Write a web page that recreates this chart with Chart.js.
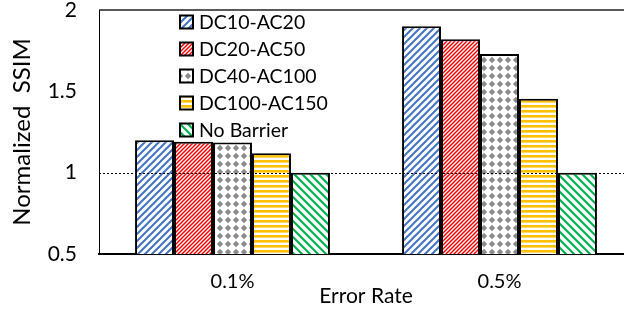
<!DOCTYPE html>
<html>
<head>
<meta charset="utf-8">
<script src="https://cdn.jsdelivr.net/npm/chart.js@4/dist/chart.umd.min.js"></script>
<style>
  html, body { margin: 0; padding: 0; background: #fff; overflow: hidden; }
</style>
</head>
<body>
<canvas id="canvas" width="640" height="313"></canvas>
<script>
// data
const categories = ['0.1%', '0.5%'];
const seriesNames = ['DC10-AC20', 'DC20-AC50', 'DC40-AC100', 'DC100-AC150', 'No Barrier'];
const dc10 = [1.20, 1.90];
const dc20 = [1.19, 1.82];
const dc40 = [1.185, 1.73];
const dc100 = [1.12, 1.455];
const noBarrier = [1.0, 1.0];
const yTicks = [0.5, 1, 1.5, 2];
const baseline = 1;

const FONT = 'Lato, "Open Sans", sans-serif';

// pattern helpers
function makePattern(size, drawFn) {
  const c = document.createElement('canvas');
  c.width = size;
  c.height = size;
  const g = c.getContext('2d');
  g.fillStyle = '#fff';
  g.fillRect(0, 0, size, size);
  drawFn(g, size);
  return document.getElementById('canvas').getContext('2d').createPattern(c, 'repeat');
}

function diagonal(color, size, width, back) {
  return makePattern(size, (g, s) => {
    g.strokeStyle = color;
    g.lineWidth = width;
    g.beginPath();
    if (!back) {
      g.moveTo(-s, s * 2); g.lineTo(s * 2, -s);
      g.moveTo(-s, s); g.lineTo(s, -s);
      g.moveTo(0, s * 2); g.lineTo(s * 2, 0);
    } else {
      g.moveTo(-s, -s); g.lineTo(s * 2, s * 2);
      g.moveTo(0, -s); g.lineTo(s * 2, s);
      g.moveTo(-s, 0); g.lineTo(s, s * 2);
    }
    g.stroke();
  });
}

const bluePat = diagonal('#4472C4', 7, 2, false);
const redPat = diagonal('#FF0000', 4, 1.5, false);
const greenPat = diagonal('#00B050', 8, 2.2, true);
const yellowPat = makePattern(5, (g, s) => {
  g.fillStyle = '#FFC000';
  g.fillRect(0, 0, s, 2.6);
});
const grayPat = makePattern(8, (g, s) => {
  g.fillStyle = '#8C8C8C';
  g.beginPath();
  g.moveTo(4, 0.8); g.lineTo(7.2, 4); g.lineTo(4, 7.2); g.lineTo(0.8, 4);
  g.closePath();
  g.fill();
});

const fills = [bluePat, redPat, grayPat, yellowPat, greenPat];
const seriesValues = [dc10, dc20, dc40, dc100, noBarrier];

const datasets = seriesNames.map((name, i) => ({
  label: name,
  data: seriesValues[i],
  backgroundColor: fills[i],
  borderColor: '#000',
  borderWidth: 2,
  borderSkipped: 'bottom',
  barPercentage: 1,
  categoryPercentage: 0.73
}));

// dotted line at 1, top border and legend inside the plot
const extras = {
  id: 'extras',
  afterDatasetsDraw(chart) {
    const ctx = chart.ctx;
    const area = chart.chartArea;
    const y = chart.scales.y.getPixelForValue(baseline);
    ctx.save();
    ctx.strokeStyle = '#000';
    ctx.lineWidth = 1.2;
    ctx.setLineDash([2, 2]);
    ctx.beginPath();
    ctx.moveTo(area.left, Math.round(y) + 0.5);
    ctx.lineTo(area.right, Math.round(y) + 0.5);
    ctx.stroke();
    ctx.setLineDash([]);

    ctx.lineWidth = 1.5;
    ctx.strokeStyle = '#222';
    ctx.beginPath();
    ctx.moveTo(area.left, area.top);
    ctx.lineTo(area.right, area.top);
    ctx.stroke();

    // legend
    const lx = 180, ly0 = 22, step = 27, box = 13;
    ctx.font = '19.5px ' + FONT;
    ctx.textBaseline = 'middle';
    chart.data.datasets.forEach((ds, i) => {
      const cy = ly0 + i * step;
      ctx.fillStyle = ds.backgroundColor;
      ctx.fillRect(lx, cy - box / 2, box, box);
      ctx.lineWidth = 2;
      ctx.strokeStyle = '#000';
      ctx.strokeRect(lx, cy - box / 2, box, box);
      ctx.fillStyle = '#000';
      ctx.fillText(ds.label, lx + box + 6, cy + 1);
    });
    ctx.restore();
  }
};

new Chart(document.getElementById('canvas'), {
  type: 'bar',
  data: { labels: categories, datasets: datasets },
  options: {
    responsive: false,
    animation: false,
    layout: { padding: { top: 10, right: 7, left: 8, bottom: 0 } },
    plugins: {
      legend: { display: false },
      tooltip: { enabled: false }
    },
    scales: {
      x: {
        grid: { display: false },
        border: { display: true, color: '#000', width: 2 },
        ticks: { color: '#000', font: { size: 20, family: FONT }, padding: 8 },
        title: { display: true, text: 'Error Rate', color: '#000', font: { size: 21, family: FONT }, padding: { top: -6 } },
        afterFit(scale) { scale.height = 59; }
      },
      y: {
        min: 0.5,
        max: 2,
        afterBuildTicks(scale) { scale.ticks = yTicks.map(v => ({ value: v })); },
        grid: { display: false },
        border: { display: true, color: '#000', width: 1 },
        ticks: {
          color: '#000',
          font: { size: 21, family: FONT },
          padding: 14,
          callback: v => String(v)
        },
        title: { display: true, text: 'Normalized  SSIM', color: '#000', font: { size: 24, family: FONT }, padding: 0 },
        afterFit(scale) {
          scale.width = 91;
          scale.paddingTop = 0;
          scale.paddingBottom = 0;
        }
      }
    }
  },
  plugins: [extras]
});
</script>
</body>
</html>
